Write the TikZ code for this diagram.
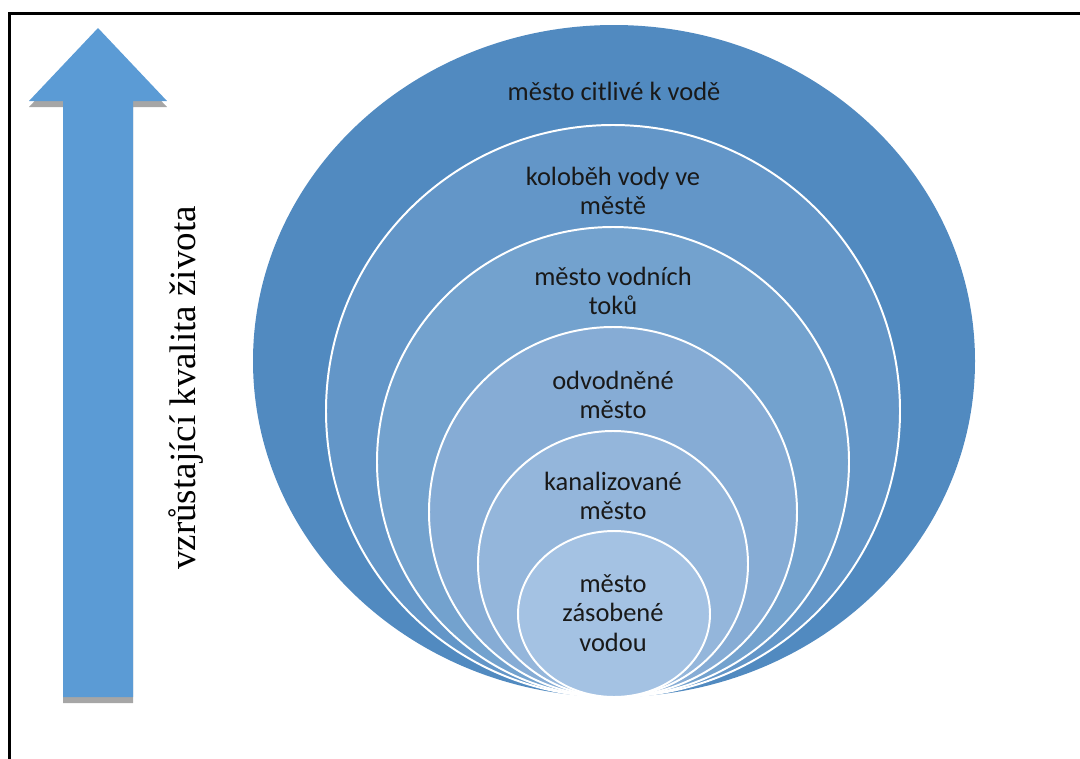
\documentclass[tikz,border=0pt]{standalone}
\usepackage{fontspec}
\setmainfont{Liberation Serif}
\newfontfamily\calibri{Carlito}
\usetikzlibrary{positioning}
\definecolor{ringA}{RGB}{81,138,192}
\definecolor{ringB}{RGB}{99,150,200}
\definecolor{ringC}{RGB}{115,162,206}
\definecolor{ringD}{RGB}{134,172,213}
\definecolor{ringE}{RGB}{148,182,219}
\definecolor{ringF}{RGB}{164,194,227}
\definecolor{arrowblue}{RGB}{91,155,213}
\definecolor{shadowgray}{RGB}{166,166,166}
\tikzset{
  ring/.style={draw=white,line width=1.4pt},
  lbl/.style={font=\calibri\fontsize{18.8}{21}\selectfont,text=black!90,align=center,inner sep=0pt},
}

\begin{document}
\begin{tikzpicture}[x=0.025cm,y=-0.025cm]
  \useasboundingbox (0,0) rectangle (1080,758);
  \clip (0,0) rectangle (1080,758);
  \draw[line width=1.8pt] (9.5,13.5) rectangle (1100,790);
  % arrow with its shadow
  \fill[shadowgray] (29,107) -- (98,34) -- (167,107) -- (133,107) -- (133,703) -- (63,703) -- (63,107) -- cycle;
  \fill[arrowblue] (29,101) -- (98,28) -- (167,101) -- (133,101) -- (133,697) -- (63,697) -- (63,101) -- cycle;
  \node[rotate=90,font=\fontsize{26.3}{30}\selectfont,inner sep=0pt] (kvalita) at (186,388) {vzrůstající kvalita života};
  % nested rings, all touching at the bottom
  \fill[ringA] (614,361) ellipse [x radius=361, y radius=336];
  \filldraw[ring,fill=ringB] (613,411) ellipse [x radius=287, y radius=286];
  \filldraw[ring,fill=ringC] (613,462) ellipse [x radius=236, y radius=235];
  \filldraw[ring,fill=ringD] (613,512) ellipse [x radius=184, y radius=185];
  \filldraw[ring,fill=ringE] (613,564) ellipse [x radius=135, y radius=133];
  \filldraw[ring,fill=ringF] (614,614) ellipse [x radius=96, y radius=83];
  \node[lbl] (citlive) at (614,91) {město citlivé k vodě};
  \node[lbl] (kolobeh) at (613,191) {koloběh vody ve\\městě};
  \node[lbl] (toky) at (613,291) {město vodních\\toků};
  \node[lbl] (odvodnene) at (613,395) {odvodněné\\město};
  \node[lbl] (kanal) at (613,496) {kanalizované\\město};
  \node[lbl] (zasobene) at (613,613) {město\\zásobené\\vodou};
\end{tikzpicture}
\end{document}
